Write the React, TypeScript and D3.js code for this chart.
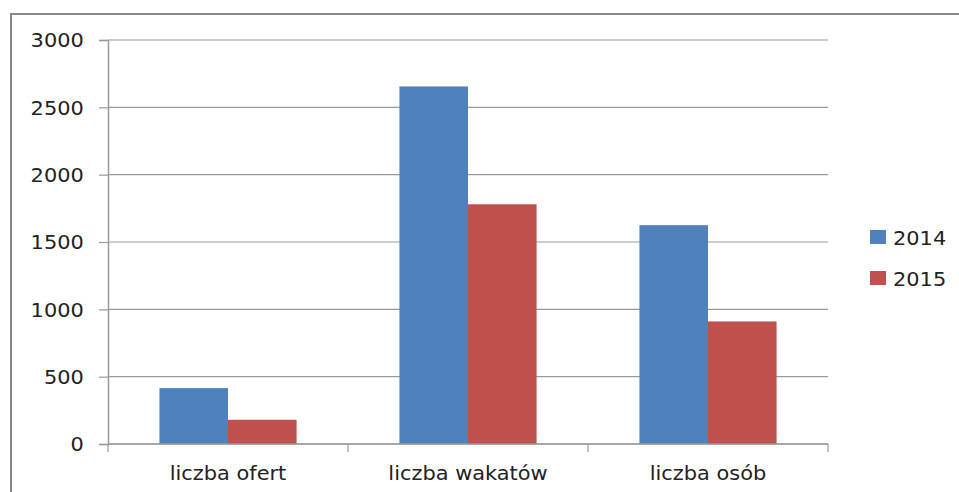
import React, { useRef, useEffect } from 'react';
import * as d3 from 'd3';

const categories = ['liczba ofert', 'liczba wakatów', 'liczba osób'];
const seriesNames = ['2014', '2015'];
const values2014 = [415, 2655, 1625];
const values2015 = [180, 1780, 910];
const yTicks = [0, 500, 1000, 1500, 2000, 2500, 3000];
const colors = ['#4f81bd', '#c0504d'];

const App: React.FC = () => {
  const svgRef = useRef<SVGSVGElement>(null);

  useEffect(() => {
    if (!svgRef.current) return;
    const width = 959;
    const height = 492;
    const font = 'DejaVu Sans, sans-serif';
    const stretch = 'scale(1.1,1)';

    const svg = d3.select(svgRef.current);
    svg.selectAll('*').remove();

    // Outer chart frame (only top and left edges visible in the crop)
    svg.append('rect')
      .attr('width', width)
      .attr('height', height)
      .attr('fill', '#fff');
    svg.append('path')
      .attr('d', `M11,${height} L11,14 L${width},14`)
      .attr('fill', 'none')
      .attr('stroke', '#878787')
      .attr('stroke-width', 2);

    const margin = { left: 108, top: 40, right: 131, bottom: 48 };
    const innerWidth = width - margin.left - margin.right;
    const innerHeight = height - margin.top - margin.bottom;

    const g = svg.append('g')
      .attr('transform', `translate(${margin.left},${margin.top})`);

    const x0 = d3.scaleBand<string>()
      .domain(categories)
      .range([0, innerWidth])
      .paddingInner(0)
      .paddingOuter(0);

    const x1 = d3.scaleBand<string>()
      .domain(seriesNames)
      .range([0, x0.bandwidth()])
      .paddingOuter(0.75)
      .paddingInner(0);

    const y = d3.scaleLinear()
      .domain([0, 3000])
      .range([innerHeight, 0]);

    // Gridlines
    g.append('g')
      .selectAll('line')
      .data(yTicks)
      .join('line')
      .attr('x1', 0)
      .attr('x2', innerWidth)
      .attr('y1', d => y(d))
      .attr('y2', d => y(d))
      .attr('stroke', '#9a9a9a')
      .attr('stroke-width', 1.2);

    // Bars
    const seriesData = [values2014, values2015];
    const groups = g.append('g')
      .selectAll('g')
      .data(categories)
      .join('g')
      .attr('transform', d => `translate(${x0(d)},0)`);

    groups.selectAll('rect')
      .data((_, i) => seriesNames.map((s, si) => ({ s, v: seriesData[si][i], c: colors[si] })))
      .join('rect')
      .attr('x', d => x1(d.s)!)
      .attr('width', x1.bandwidth())
      .attr('y', d => y(d.v))
      .attr('height', d => innerHeight - y(d.v))
      .attr('fill', d => d.c);

    // Y axis
    const yAxis = g.append('g')
      .call(d3.axisLeft(y).tickValues(yTicks).tickSize(9).tickPadding(13).tickFormat(d => String(d)));
    yAxis.select('.domain').attr('stroke', '#9a9a9a').attr('stroke-width', 1.5);
    yAxis.selectAll('.tick line').attr('stroke', '#9a9a9a').attr('stroke-width', 1.2);
    yAxis.selectAll('text')
      .attr('font-family', font)
      .attr('font-size', '19px')
      .attr('fill', '#222')
      .attr('dy', '0.36em')
      .attr('transform', stretch);

    // X axis: ticks on category boundaries
    const xAxisG = g.append('g').attr('transform', `translate(0,${innerHeight})`);
    xAxisG.append('line')
      .attr('x1', 0)
      .attr('x2', innerWidth)
      .attr('stroke', '#9a9a9a')
      .attr('stroke-width', 1.5);
    const boundaries = [0, ...categories.map(c => x0(c)! + x0.bandwidth())];
    xAxisG.selectAll('line.tick')
      .data(boundaries)
      .join('line')
      .attr('class', 'tick')
      .attr('x1', d => d)
      .attr('x2', d => d)
      .attr('y1', 0)
      .attr('y2', 8)
      .attr('stroke', '#9a9a9a')
      .attr('stroke-width', 1.2);
    xAxisG.selectAll('text')
      .data(categories)
      .join('text')
      .attr('transform', d => `translate(${x0(d)! + x0.bandwidth() / 2},36) ${stretch}`)
      .attr('text-anchor', 'middle')
      .attr('font-family', font)
      .attr('font-size', '19px')
      .attr('fill', '#222')
      .text(d => d);

    // Legend
    const legend = svg.append('g').attr('transform', 'translate(870,230)');
    seriesNames.forEach((s, i) => {
      const row = legend.append('g').attr('transform', `translate(0,${i * 41})`);
      row.append('rect')
        .attr('width', 16)
        .attr('height', 14)
        .attr('fill', colors[i]);
      row.append('text')
        .attr('transform', `translate(23,14.5) ${stretch}`)
        .attr('font-family', font)
        .attr('font-size', '19px')
        .attr('fill', '#222')
        .text(s);
    });
  }, []);

  return (
    <svg
      ref={svgRef}
      width={959}
      height={492}
      style={{ position: 'absolute', left: 0, top: 0, display: 'block' }}
    />
  );
};

export default App;
